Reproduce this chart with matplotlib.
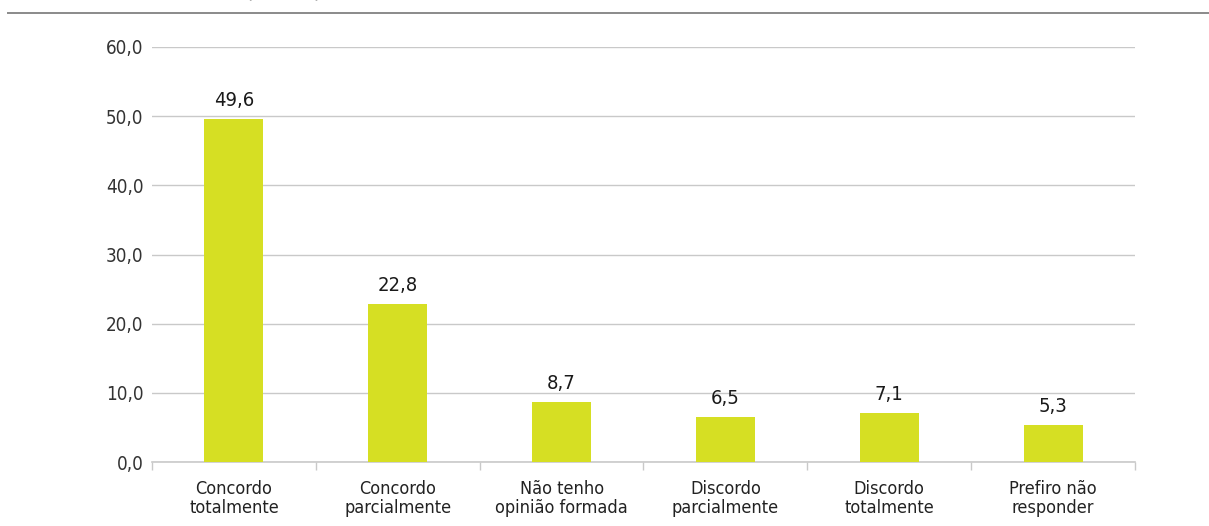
import matplotlib
matplotlib.use("Agg")
import numpy as np
from matplotlib import pyplot as plt
from matplotlib.lines import Line2D

categorias = [
    "Concordo\ntotalmente",
    "Concordo\nparcialmente",
    "Não tenho\nopinião formada",
    "Discordo\nparcialmente",
    "Discordo\ntotalmente",
    "Prefiro não\nresponder",
]
valores = [49.6, 22.8, 8.7, 6.5, 7.1, 5.3]
yticks = [0, 10, 20, 30, 40, 50, 60]

plt.rcParams["font.family"] = ["DejaVu Sans"]
plt.rcParams["font.stretch"] = "condensed"

cor_barra = "#D6DF23"
cor_grade = "#C9C9C9"

fig = plt.figure(figsize=(12.09, 5.26), dpi=100)
ax = fig.add_axes([152 / 1209, 1 - 462 / 526, (1135 - 152) / 1209, (462 - 47) / 526])

x = np.arange(len(categorias))
ax.bar(x, valores, width=0.36, color=cor_barra, zorder=3)

for xi, v in zip(x, valores):
    ax.text(xi, v + 1.3, f"{v:.1f}".replace(".", ","), ha="center", va="bottom",
            fontsize=14.5, color="#1a1a1a")

ax.set_xlim(-0.5, len(categorias) - 0.5)
ax.set_ylim(0, 60)
ax.set_yticks(yticks)
ax.set_yticklabels([f"{t:.1f}".replace(".", ",") for t in yticks], fontsize=13.5, color="#333333")
ax.yaxis.grid(True, color=cor_grade, linewidth=1, zorder=0)
ax.tick_params(axis="y", length=0, pad=6)

# rótulos das categorias no centro, marcas de divisão nas bordas
ax.set_xticks(x)
ax.set_xticklabels(categorias, fontsize=13, color="#222222", linespacing=1.1)
ax.tick_params(axis="x", length=0, pad=13)
ax.set_xticks(np.arange(-0.5, len(categorias)), minor=True)
ax.tick_params(axis="x", which="minor", length=6, color=cor_grade, width=1)

for lado in ["top", "right", "left"]:
    ax.spines[lado].set_visible(False)
ax.spines["bottom"].set_color(cor_grade)
ax.spines["bottom"].set_linewidth(1.2)

# linha do cabeçalho e título cortado acima
fig.add_artist(Line2D([8 / 1209, 1], [1 - 13 / 526] * 2, color="#8a8a8a", linewidth=1.4))
fig.text(284 / 1209, 1 + 3 / 526, "(em %)", ha="center", va="baseline",
         fontsize=17, color="#666666")

fig.savefig("out.png", dpi=100)
